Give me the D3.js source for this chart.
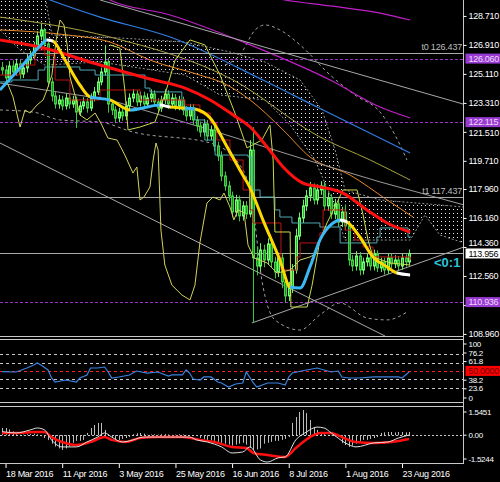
<!DOCTYPE html>
<html>
<head>
<meta charset="utf-8">
<script src="https://cdn.jsdelivr.net/npm/d3@7/dist/d3.min.js"></script>
<style>
  html, body { margin: 0; background: #000; }
  svg { display: block; }
</style>
</head>
<body>
<div id="chart"></div>
<script>
// ---------- data ----------
const dateTickBars = [1, 17, 33, 49, 65, 81, 97, 113]
const dateTickLabels = ["18 Mar 2016", "11 Apr 2016", "3 May 2016", "25 May 2016", "16 Jun 2016", "8 Jul 2016", "1 Aug 2016", "23 Aug 2016"]
const priceTicks = [128.710, 126.910, 125.110, 123.310, 121.510, 119.710, 117.960, 116.160, 114.360, 112.560, 110.760, 108.960]

const opens = [125.50,125.35,124.86,125.60,125.23,125.73,125.10,125.48,125.97,126.22,
126.84,127.46,127.84,126.97,124.61,123.74,123.24,123.49,123.12,123.61,
123.24,123.49,122.74,123.12,123.37,122.99,123.61,123.99,124.61,125.23,
125.85,123.24,122.87,122.37,122.74,122.50,123.12,123.61,123.86,123.37,
123.74,123.24,123.61,123.86,123.37,122.99,123.49,123.86,123.24,123.61,
123.12,123.49,122.87,122.50,122.99,122.25,121.88,121.50,122.00,121.25,
121.63,120.63,120.01,118.77,118.15,117.53,116.53,117.28,116.29,116.91,
116.41,120.38,113.68,113.18,114.17,113.55,114.55,113.43,112.81,113.68,
112.19,111.32,111.82,112.93,115.04,116.16,116.91,117.53,118.03,117.28,
117.90,118.15,116.91,117.40,116.41,117.03,115.91,116.53,115.67,113.55,
113.18,113.80,112.93,113.43,113.68,113.18,113.93,113.06,113.43,112.93,
113.68,113.31,113.55,113.18,113.68,113.43]
const highs = [125.85,125.65,125.90,125.95,126.05,126.00,125.80,126.30,126.55,127.10,
127.75,128.25,127.95,127.10,124.90,124.05,123.80,123.75,123.90,123.90,
123.75,123.70,123.40,123.65,123.60,123.90,124.30,124.90,125.50,126.90,
126.10,123.50,123.10,123.00,123.00,123.40,123.90,124.15,124.10,124.00,
124.00,123.90,124.15,124.10,123.60,123.75,124.15,124.10,123.90,123.85,
123.75,123.70,123.10,123.25,123.25,122.50,122.15,122.30,122.25,121.90,
121.90,120.90,120.30,119.05,118.45,117.80,117.60,117.55,117.20,117.20,
121.00,121.80,114.40,114.60,114.50,114.90,114.85,113.75,114.00,113.95,
112.50,112.20,113.30,115.50,116.50,117.30,117.90,118.40,118.30,118.25,
118.45,118.40,117.75,117.65,117.35,117.30,116.85,117.00,115.90,113.85,
114.10,114.05,113.70,113.95,113.95,114.20,114.15,113.70,113.70,113.95,
113.95,113.85,113.80,113.95,113.90,114.20]
const lows = [125.05,124.56,124.60,124.95,125.00,124.80,124.85,125.20,125.70,126.00,
126.60,127.20,126.70,124.30,123.40,122.95,122.95,122.85,122.90,122.95,
123.00,121.75,122.50,122.90,122.70,122.80,123.40,123.80,124.40,125.00,
122.70,122.55,122.05,122.10,122.20,122.25,122.90,123.35,123.10,123.10,
122.95,123.00,123.35,123.10,122.70,122.75,123.25,122.95,123.00,122.85,
122.85,122.55,122.20,122.25,121.95,121.55,121.20,121.25,120.95,121.00,
120.30,119.70,118.45,117.85,117.20,116.20,116.25,115.95,116.00,116.10,
116.20,109.64,112.60,112.85,113.10,113.25,113.10,112.40,112.50,111.80,
110.90,111.00,111.50,112.70,114.80,115.85,116.60,117.20,117.00,117.00,
117.60,116.60,116.60,116.10,116.10,115.60,115.60,115.40,113.20,112.85,
112.90,112.60,112.65,113.15,112.90,112.90,112.80,112.80,112.65,112.70,
113.05,113.05,112.90,112.95,113.15,113.20]
const closes = [125.35,124.86,125.60,125.23,125.73,125.10,125.48,125.97,126.22,126.84,
127.46,127.84,126.97,124.61,123.74,123.24,123.49,123.12,123.61,123.24,
123.49,122.74,123.12,123.37,122.99,123.61,123.99,124.61,125.23,125.85,
123.24,122.87,122.37,122.74,122.50,123.12,123.61,123.86,123.37,123.74,
123.24,123.61,123.86,123.37,122.99,123.49,123.86,123.24,123.61,123.12,
123.49,122.87,122.50,122.99,122.25,121.88,121.50,122.00,121.25,121.63,
120.63,120.01,118.77,118.15,117.53,116.53,117.28,116.29,116.91,116.41,
120.38,113.68,113.18,114.17,113.55,114.55,113.43,112.81,113.68,112.19,
111.32,111.82,112.93,115.04,116.16,116.91,117.53,118.03,117.28,117.90,
118.15,116.91,117.40,116.41,117.03,115.91,116.53,115.67,113.55,113.18,
113.80,112.93,113.43,113.68,113.18,113.93,113.06,113.43,112.93,113.68,
113.31,113.55,113.18,113.68,113.43,113.956]

// indicator lines as [bar, price] readings
const redMA = [[-0.6,127.22],[10.7,126.78],[27.7,125.66],[41.8,124.79],[51.7,124.23],[58.8,123.49],[65.3,122.56],[70.1,121.81],[74.9,120.57],[79.4,119.33],[85.0,118.33],[89.8,118.09],[96.3,117.71],[103.1,116.66],[108.8,115.85],[115.3,115.29]]
const trendMA = [[-0.6,124.11],[5.1,125.48],[10.7,126.84],[12.7,127.22],[14.4,127.15],[17.8,125.97],[22.0,124.42],[24.9,123.68],[30.5,123.49],[36.2,122.87],[44.6,123.18],[47.5,123.05],[51.7,122.99],[54.5,122.93],[58.8,122.37],[63.6,120.57],[67.2,119.14],[70.1,118.02],[73.7,116.04],[78.5,113.55],[81.4,111.87],[84.2,111.81],[87.0,113.12],[89.8,114.79],[93.5,115.85],[95.5,116.04],[97.5,115.91],[101.1,114.98],[104.8,113.74],[108.8,113.12],[111.6,112.74],[115.3,112.62]]
const trendMAColors = ["c","c","c","w","y","y","y","c","y","c","w","y","c","y","y","y","y","y","y","y","c","c","c","c","c","w","y","y","y","y","w"]
const orangeMA = [[-0.6,127.84],[18.4,127.53],[30.5,127.09],[41.8,125.97],[55.9,125.04],[62.4,124.55],[70.1,123.49],[79.4,121.63],[87.0,119.95],[98.3,118.83],[108.8,117.28],[116.1,116.22]]
const khakiMA = [[-0.6,128.64],[30.5,127.40],[65.3,124.73],[89.8,121.19],[104.0,119.76],[115.3,118.52]]
const blueMA = [[7.9,130.20],[13.6,129.70],[27.7,128.64],[47.5,127.40],[73.7,124.73],[89.0,123.05],[115.3,120.20]]
const magentaTop = [[72.9,130.01],[79.9,129.70],[92.7,129.33],[106.8,128.89],[115.3,128.46]]
const magentaMA = [[27.7,130.20],[30.5,129.70],[47.5,128.77],[70.1,126.91],[92.7,124.73],[106.8,123.05],[115.3,122.37]]
const greyCurve = [[-0.6,124.54],[30.5,123.49],[58.8,121.63],[84.2,119.89],[106.8,118.40],[130.5,116.97]]
const trendLines = [[27.7,129.70,130.5,123.22],[-0.6,120.82,108.2,108.83],[70.6,109.64,130.5,114.36]]
const kijun = [[-0.6,124.61],[2.8,124.73],[10.2,125.35],[12.1,125.54],[22.0,125.35],[26.3,125.04],[37.6,125.04],[40.4,124.23],[41.8,123.99],[49.7,123.99],[50.8,122.87],[54.5,122.25],[57.3,121.00],[60.2,120.07],[69.5,119.95],[70.6,117.90],[72.9,117.46],[77.1,116.66],[78.5,116.22],[81.9,115.85],[89.8,115.60],[95.5,114.61],[105.9,114.98],[106.8,115.54],[114.7,114.98],[115.5,114.98]]
const tenkan = [[-0.6,125.04],[5.1,125.66],[9.3,126.59],[12.1,126.28],[15.0,124.73],[19.2,123.49],[27.7,124.11],[39.0,123.49],[51.7,123.18],[55.9,122.68],[58.8,122.06],[60.7,121.00],[64.4,119.76],[68.1,117.90],[70.1,116.66],[70.9,115.85],[78.8,112.93],[83.3,113.74],[84.2,114.61],[89.8,115.23],[90.7,116.66],[96.9,115.41],[99.7,114.79],[102.0,114.36],[104.8,113.74],[115.3,113.55]]
const cloudTop = [[-0.6,130.01],[12.1,130.01],[14.1,127.53],[33.3,127.34],[51.7,127.09],[64.4,126.47],[74.3,125.85],[84.2,124.73],[90.4,122.87],[94.1,120.38],[96.9,117.90],[106.8,117.28],[130.5,116.84]]
const cloudBottom = [[-0.6,127.84],[5.1,126.59],[12.1,125.66],[27.7,125.85],[51.7,125.04],[61.6,123.80],[74.3,123.49],[81.4,121.94],[88.4,119.76],[92.7,117.59],[96.9,114.79],[115.3,114.79],[119.5,116.35],[123.7,115.10],[130.5,114.61]]
const bandUpper = [[63.0,125.66],[67.2,126.28],[71.5,127.84],[74.3,128.15],[78.5,127.84],[84.2,126.91],[92.7,125.04],[99.7,123.80],[106.8,122.74],[111.0,121.32],[114.4,119.76]]
const bandLower = [[-0.6,122.87],[8.8,122.74],[16.4,122.25],[27.7,122.12],[37.0,121.50],[58.8,120.82],[67.2,119.45],[70.6,117.28],[73.4,112.31],[77.1,109.83],[84.2,109.20],[89.8,110.14],[95.5,110.88],[103.1,109.95],[108.8,109.83],[114.4,110.32]]
const laggingLine = [[-0.6,124.11],[1.4,124.61],[3.1,123.68],[5.1,121.81],[6.5,122.87],[7.9,122.68],[9.9,123.18],[11.6,123.49],[12.7,124.11],[14.1,125.04],[15.3,127.22],[16.4,128.46],[17.5,128.15],[18.4,126.91],[19.2,124.92],[20.6,123.80],[22.0,122.56],[24.0,122.25],[26.3,122.68],[28.2,121.94],[29.9,121.13],[32.5,121.00],[34.7,120.07],[37.0,118.95],[38.1,119.33],[39.0,117.28],[40.1,117.46],[41.8,118.09],[42.7,119.76],[43.5,120.82],[44.1,120.38],[44.9,115.41],[46.0,113.24],[48.0,111.99],[50.8,111.38],[53.1,111.07],[54.5,111.99],[55.9,114.61],[57.9,117.09],[59.6,117.46],[61.6,117.28],[62.7,117.71],[64.4,116.84],[65.5,116.04],[66.7,116.66],[68.4,116.47],[69.5,114.48],[71.2,113.68],[74.9,113.37],[77.7,112.74],[81.4,112.93],[84.2,113.55],[87.0,113.74],[89.0,113.99]]
const channelLine = [[30.5,126.91],[33.3,126.72],[34.7,124.11],[35.6,121.63],[39.0,121.81],[43.2,122.12],[46.0,123.80],[48.9,125.97],[53.1,127.22],[57.3,126.91],[61.6,125.04],[65.8,122.68],[69.2,120.51],[73.4,121.00],[75.7,121.94],[76.6,119.76],[77.1,115.29],[81.4,115.29],[81.6,110.63],[86.2,110.63],[87.6,111.99],[89.8,114.79],[91.8,115.85],[94.6,117.09],[96.3,117.90],[100.3,117.90],[102.0,116.35],[103.4,114.79],[104.8,113.74],[109.6,113.37],[115.3,113.24]]

const markLevels = [126.437, 117.437]
const markNames = ["t0", "t1"]
const purpleLevels = [126.060, 122.115, 110.936]
const lastPrice = 113.956

// oscillator panel
const rsiLevels = [76.2, 61.8, 38.2, 23.6]
const rsiMid = 50
const rsiAxisValues = [100, 76.2, 61.8, 38.2, 23.6, 0]
const rsi = [[0,48.8],[4,48.3],[7,54.5],[9,59.1],[10,62.2],[11,59.1],[13,51.4],[14,39],[15,32.8],[18,35.9],[21,32.8],[22,39],[24,43.7],[25,54.5],[27,54.5],[29,56],[30,48.3],[31,39],[33,40.6],[36,43.7],[38,49.8],[41,46.7],[44,48.3],[47,42.1],[48,43.7],[51,43.7],[52,51.4],[53,46.7],[54,37.5],[56,35.9],[57,40.6],[59,40.6],[61,32.8],[62,31.3],[64,25],[66,29.7],[68,31.3],[69,48.3],[71,31.3],[72,25],[75,31.3],[78,31.3],[80,28.2],[81,40.6],[82,46.7],[86,51.4],[89,54.5],[91,51.4],[93,48.3],[95,49.8],[96,40.6],[98,39],[101,39],[105,40.6],[109,40.6],[112,40.6],[113,39],[115,48.3]]

// macd panel
const macdMax = 1.5451, macdMin = -1.5244
const macdAxisLabels = ["1.5451", "0.00", "-1.5244"]
const macdHist = [0.38,0.38,0.30,0.20,
0.05,0.02,0.03,0.05,0.06,0.08,0.05,
-0.05,-0.15,-0.25,
-0.45,-0.60,-0.70,-0.78,-0.70,-0.60,
-0.40,-0.30,-0.30,-0.25,
0.12,0.38,0.54,0.65,0.65,0.28,0.05,
-0.10,-0.20,-0.25,-0.20,-0.15,-0.10,
0.05,0.10,0.12,0.08,
0.02,0.04,0.05,0.03,0.05,0.06,0.04,0.02,0.03,0.05,0.04,0.02,0.00,-0.03,-0.05,
-0.15,-0.20,-0.25,-0.28,-0.30,-0.35,-0.40,-0.45,-0.50,-0.55,-0.50,-0.45,-0.40,
-0.50,-0.65,-0.78,-0.75,-0.70,
-0.45,-0.40,-0.35,-0.30,-0.30,-0.25,-0.20,-0.10,
0.65,0.96,1.23,1.33,1.17,0.80,0.43,0.28,0.12,
0.05,0.02,-0.02,-0.05,-0.10,
-0.41,-0.52,-0.62,-0.55,-0.45,
-0.30,-0.25,-0.25,-0.20,-0.15,-0.10,
0.12,0.15,0.17,0.17,0.15,0.17,0.17,0.15,0.17]
const macdMain = [[0,0.19],[4,0.12],[8,0.28],[10,0.38],[12,0.28],[14,-0.25],[17,-0.62],[21,-0.62],[24,-0.36],[27,-0.10],[29,0.12],[31,-0.10],[34,-0.36],[37,-0.25],[40,-0.10],[44,-0.10],[49,-0.10],[53,-0.10],[55,-0.25],[58,-0.36],[62,-0.62],[65,-0.94],[68,-0.89],[70,-0.62],[73,-1.31],[75,-1.42],[78,-1.20],[80,-1.15],[83,-0.25],[86,0.17],[89,0.43],[91,0.38],[93,0.12],[97,-0.41],[100,-0.62],[105,-0.41],[109,-0.36],[112,-0.15],[115,0.01]]
const macdSignal = [[0,0.12],[5,0.12],[9,0.17],[12,0.17],[14,-0.10],[17,-0.36],[21,-0.52],[25,-0.36],[29,-0.10],[31,-0.25],[35,-0.36],[39,-0.15],[44,-0.10],[51,-0.10],[56,-0.25],[60,-0.36],[65,-0.62],[69,-0.68],[71,-0.94],[75,-1.05],[80,-1.15],[83,-0.68],[87,-0.10],[90,0.12],[93,0.12],[96,-0.10],[100,-0.36],[105,-0.41],[110,-0.36],[115,-0.20]]

// ---------- layout ----------
const W = 500, H = 482
const plotRight = 463.5
const mainTop = 0, mainBottom = 336
const rsiTop = 339, rsiBottom = 403
const macdTop = 406, macdBottom = 464
const font = "Liberation Sans, Arial, sans-serif"

const x = d3.scaleLinear().domain([0, 115]).range([2, 2 + 115 * 3.54])
const y = d3.scaleLinear().domain([108.83, 129.70]).range([mainBottom, mainTop])
const yRsi = d3.scaleLinear().domain([0, 100]).range([403.2, 338.6])
const yMacd = d3.scaleLinear().domain([macdMin, macdMax]).range([macdBottom, macdTop])

const svg = d3.select("#chart").append("svg").attr("width", W).attr("height", H)
svg.append("rect").attr("width", W).attr("height", H).attr("fill", "#000")
const defs = svg.append("defs")

defs.append("clipPath").attr("id", "clipMain").append("rect")
  .attr("x", 0).attr("y", mainTop).attr("width", plotRight).attr("height", mainBottom - mainTop)
defs.append("clipPath").attr("id", "clipRsi").append("rect")
  .attr("x", 0).attr("y", rsiTop).attr("width", plotRight).attr("height", rsiBottom - rsiTop)
defs.append("clipPath").attr("id", "clipMacd").append("rect")
  .attr("x", 0).attr("y", macdTop).attr("width", plotRight).attr("height", macdBottom - macdTop)

const dots = defs.append("pattern").attr("id", "dots")
  .attr("patternUnits", "userSpaceOnUse").attr("width", 4).attr("height", 4)
dots.append("rect").attr("x", 1).attr("y", 1).attr("width", 1).attr("height", 1).attr("fill", "#e8e8e8")

const main = svg.append("g").attr("clip-path", "url(#clipMain)")

function path(g, data, color, width, curve, dash) {
  const p = g.append("path")
    .attr("d", d3.line().x(d => x(d[0])).y(d => y(d[1])).curve(curve || d3.curveMonotoneX)(data))
    .attr("fill", "none").attr("stroke", color).attr("stroke-width", width)
  if (dash) p.attr("stroke-dasharray", dash)
  return p
}

// ichimoku cloud
const cloudPts = cloudTop.concat(cloudBottom.slice().reverse())
main.append("path")
  .attr("d", d3.line().x(d => x(d[0])).y(d => y(d[1]))(cloudPts) + "Z")
  .attr("fill", "url(#dots)")
path(main, cloudTop, "#cfcfcf", 1, d3.curveLinear, "2,2").attr("opacity", 0.7)
path(main, cloudBottom, "#cfcfcf", 1, d3.curveLinear, "2,2").attr("opacity", 0.7)

// bands
path(main, bandUpper, "#a0a0a0", 1, null, "3,3")
path(main, bandLower, "#a0a0a0", 1, null, "3,3")

// slow moving averages
path(main, magentaTop, "#c020c8", 1.2)
path(main, magentaMA, "#c020c8", 1.2)
path(main, blueMA, "#2f7ee0", 1.2)
path(main, khakiMA, "#a8a040", 1)
path(main, orangeMA, "#e8862a", 1)

// trend lines
path(main, greyCurve, "#9a9a9a", 1, d3.curveLinear)
trendLines.forEach(t => {
  main.append("line")
    .attr("x1", x(t[0])).attr("y1", y(t[1])).attr("x2", x(t[2])).attr("y2", y(t[3]))
    .attr("stroke", "#a8a8a8").attr("stroke-width", 1)
})

// horizontal levels
markLevels.forEach(v => {
  main.append("line").attr("x1", 0).attr("x2", plotRight)
    .attr("y1", Math.round(y(v)) + 0.5).attr("y2", Math.round(y(v)) + 0.5)
    .attr("stroke", "#a9a9a9").attr("stroke-width", 1)
})
main.append("line").attr("x1", 0).attr("x2", plotRight)
  .attr("y1", Math.round(y(lastPrice)) + 0.5).attr("y2", Math.round(y(lastPrice)) + 0.5)
  .attr("stroke", "#a9a9a9").attr("stroke-width", 1)
purpleLevels.forEach(v => {
  main.append("line").attr("x1", 0).attr("x2", plotRight)
    .attr("y1", Math.round(y(v)) + 0.5).attr("y2", Math.round(y(v)) + 0.5)
    .attr("stroke", "#9932cc").attr("stroke-width", 1).attr("stroke-dasharray", "3,2")
})

// candles
const candles = main.append("g")
closes.forEach((c, i) => {
  const o = opens[i]
  const cx = Math.round(x(i))
  const bull = c >= o
  candles.append("line")
    .attr("x1", cx + 0.5).attr("x2", cx + 0.5)
    .attr("y1", y(highs[i])).attr("y2", y(lows[i]))
    .attr("stroke", bull ? "#66f066" : "#3cc83c").attr("stroke-width", 1)
  const top = y(Math.max(o, c)), bot = y(Math.min(o, c))
  candles.append("rect")
    .attr("x", cx - 0.5).attr("y", top).attr("width", 2).attr("height", Math.max(1, bot - top))
    .attr("fill", bull ? "#2fae2f" : "#239023")
    .attr("stroke", bull ? "#72ff72" : "#44d044").attr("stroke-width", 1)
})

// ichimoku lines
path(main, kijun, "#4fa8b0", 1, d3.curveStepAfter)
path(main, tenkan, "#c01010", 1, d3.curveStepAfter)
path(main, laggingLine, "#d2d25a", 1, d3.curveLinear)
path(main, channelLine, "#cad84c", 1, d3.curveLinear)

// red MA
path(main, redMA, "#ff1010", 3)

// slope-coloured MA
const maColorMap = { y: "#ffd800", c: "#3cb8f4", w: "#ffffff" }
Object.keys(maColorMap).forEach(key => {
  const cp = defs.append("clipPath").attr("id", "ma-" + key)
  trendMAColors.forEach((k, i) => {
    if (k !== key) return
    const x0 = x(trendMA[i][0]), x1 = x(trendMA[i + 1][0])
    cp.append("rect").attr("x", x0 - 0.2).attr("y", 0).attr("width", x1 - x0 + 0.4).attr("height", mainBottom)
  })
  main.append("g").attr("clip-path", "url(#ma-" + key + ")")
    .append("path")
    .attr("d", d3.line().x(d => x(d[0])).y(d => y(d[1])).curve(d3.curveMonotoneX)(trendMA))
    .attr("fill", "none").attr("stroke", maColorMap[key]).attr("stroke-width", 3)
})

// level names
markLevels.forEach((v, i) => {
  svg.append("text").attr("x", 462).attr("y", y(v) - 3)
    .attr("text-anchor", "end").attr("fill", "#bdbdbd")
    .attr("font-family", font).attr("font-size", 9).attr("letter-spacing", -0.2)
    .text(markNames[i] + " " + d3.format(".3f")(v))
})
svg.append("text").attr("x", 434).attr("y", 267)
  .attr("fill", "#2cc4d8").attr("font-family", font).attr("font-weight", "bold").attr("font-size", 13)
  .text("<0:1")

// ---------- oscillator panel ----------
const rsiG = svg.append("g").attr("clip-path", "url(#clipRsi)")
rsiLevels.forEach(v => {
  rsiG.append("line").attr("x1", 0).attr("x2", plotRight)
    .attr("y1", Math.round(yRsi(v)) + 0.5).attr("y2", Math.round(yRsi(v)) + 0.5)
    .attr("stroke", "#c8c8c8").attr("stroke-dasharray", "3,3")
})
rsiG.append("line").attr("x1", 0).attr("x2", plotRight)
  .attr("y1", Math.round(yRsi(rsiMid)) + 0.5).attr("y2", Math.round(yRsi(rsiMid)) + 0.5)
  .attr("stroke", "#ff2020").attr("stroke-dasharray", "3,3")
rsiG.append("path")
  .attr("d", d3.line().x(d => x(d[0])).y(d => yRsi(d[1]))(rsi))
  .attr("fill", "none").attr("stroke", "#3a82e0").attr("stroke-width", 1.2)

// ---------- macd panel ----------
const macdG = svg.append("g").attr("clip-path", "url(#clipMacd)")
macdG.append("line").attr("x1", 0).attr("x2", plotRight)
  .attr("y1", Math.round(yMacd(0)) + 0.5).attr("y2", Math.round(yMacd(0)) + 0.5)
  .attr("stroke", "#c8c8c8").attr("stroke-dasharray", "2,2")
macdHist.forEach((v, i) => {
  const cx = Math.round(x(i)) + 0.5
  macdG.append("line").attr("x1", cx).attr("x2", cx)
    .attr("y1", yMacd(0)).attr("y2", yMacd(v))
    .attr("stroke", "#bdbdbd").attr("stroke-width", 1)
})
macdG.append("path")
  .attr("d", d3.line().x(d => x(d[0])).y(d => yMacd(d[1])).curve(d3.curveMonotoneX)(macdSignal))
  .attr("fill", "none").attr("stroke", "#ff1010").attr("stroke-width", 2.5)
macdG.append("path")
  .attr("d", d3.line().x(d => x(d[0])).y(d => yMacd(d[1])).curve(d3.curveMonotoneX)(macdMain))
  .attr("fill", "none").attr("stroke", "#e0e0e0").attr("stroke-width", 1)

// ---------- frames ----------
const frame = "#c8c8c8"
;[mainBottom + 0.5, rsiTop + 0.5, rsiBottom - 0.5, macdTop + 0.5, macdBottom - 0.5].forEach(yy => {
  svg.append("line").attr("x1", 0).attr("x2", plotRight).attr("y1", yy).attr("y2", yy).attr("stroke", frame)
})
svg.append("line").attr("x1", plotRight).attr("x2", plotRight).attr("y1", 0).attr("y2", macdBottom).attr("stroke", frame)

// ---------- axes ----------
function styleAxis(g) {
  g.select(".domain").remove()
  g.selectAll("line").attr("stroke", "#fff")
  g.selectAll("text").attr("fill", "#fff").attr("font-family", font).attr("font-size", 9).attr("letter-spacing", -0.3)
}
// price boxes sit on the axis; tick labels right under a box are hidden as on the terminal
const boxPrices = purpleLevels.concat([lastPrice])
const priceAxis = svg.append("g").attr("transform", `translate(${plotRight},0)`)
  .call(d3.axisRight(y).tickValues(priceTicks).tickSize(3).tickPadding(2).tickFormat(d3.format(".3f")))
styleAxis(priceAxis)
priceAxis.selectAll(".tick").each(function (d) {
  const near = boxPrices.map(b => y(d) - y(b)).filter(dy => Math.abs(dy) < 11)
  if (!near.length) return
  const dy = near[0]
  const t = d3.select(this).select("text")
  if (Math.abs(dy) < 6) t.remove()
  else t.attr("y", (dy < 0 ? -11 : 11) - dy)
})

const dateAxis = svg.append("g").attr("transform", `translate(0,${macdBottom})`)
  .call(d3.axisBottom(x).tickValues(dateTickBars).tickSize(4).tickPadding(3)
    .tickFormat((d, i) => dateTickLabels[i]))
styleAxis(dateAxis)
dateAxis.selectAll("text").attr("text-anchor", "start").attr("x", 0)

// sub panel labels
function sideLabel(yy, txt) {
  svg.append("line").attr("x1", plotRight).attr("x2", plotRight + 3).attr("y1", yy).attr("y2", yy).attr("stroke", "#fff")
  svg.append("text").attr("x", plotRight + 5).attr("y", yy).attr("dy", "0.32em")
    .attr("fill", "#fff").attr("font-family", font).attr("font-size", 8).attr("letter-spacing", -0.3).text(txt)
}
// spread the oscillator labels away from the 50 box, keeping them inside the panel
const rsiBoxY = yRsi(rsiMid)
const gap = 8.6
let limit = rsiBoxY - 5 - 4.3
rsiAxisValues.filter(v => v > rsiMid).sort((a, b) => a - b).forEach(v => {
  const yy = Math.min(Math.max(yRsi(v), rsiTop + 5), limit)
  sideLabel(yy, String(v))
  limit = yy - gap
})
limit = rsiBoxY + 5 + 4.3
rsiAxisValues.filter(v => v < rsiMid).sort((a, b) => b - a).forEach(v => {
  const yy = Math.max(Math.min(yRsi(v), rsiBottom - 5), limit)
  sideLabel(yy, String(v))
  limit = yy + gap
})
;[macdMax, 0, macdMin].forEach((v, i) => sideLabel(Math.min(Math.max(yMacd(v), macdTop + 6), macdBottom - 5), macdAxisLabels[i]))

// price boxes
function priceBox(yy, txt, bg, fg) {
  svg.append("rect").attr("x", plotRight + 2).attr("y", yy - 5).attr("width", W - plotRight - 2).attr("height", 10).attr("fill", bg)
  svg.append("text").attr("x", plotRight + 5).attr("y", yy).attr("dy", "0.34em")
    .attr("fill", fg).attr("font-family", font).attr("font-size", 9).attr("letter-spacing", -0.3).text(txt)
}
purpleLevels.forEach(v => priceBox(y(v), d3.format(".3f")(v), "#9a3ad4", "#ecdcf6"))
priceBox(y(lastPrice), d3.format(".3f")(lastPrice), "#ffffff", "#000000")
priceBox(rsiBoxY, d3.format(".4f")(rsiMid), "#ff0000", "#700000")
</script>
</body>
</html>
